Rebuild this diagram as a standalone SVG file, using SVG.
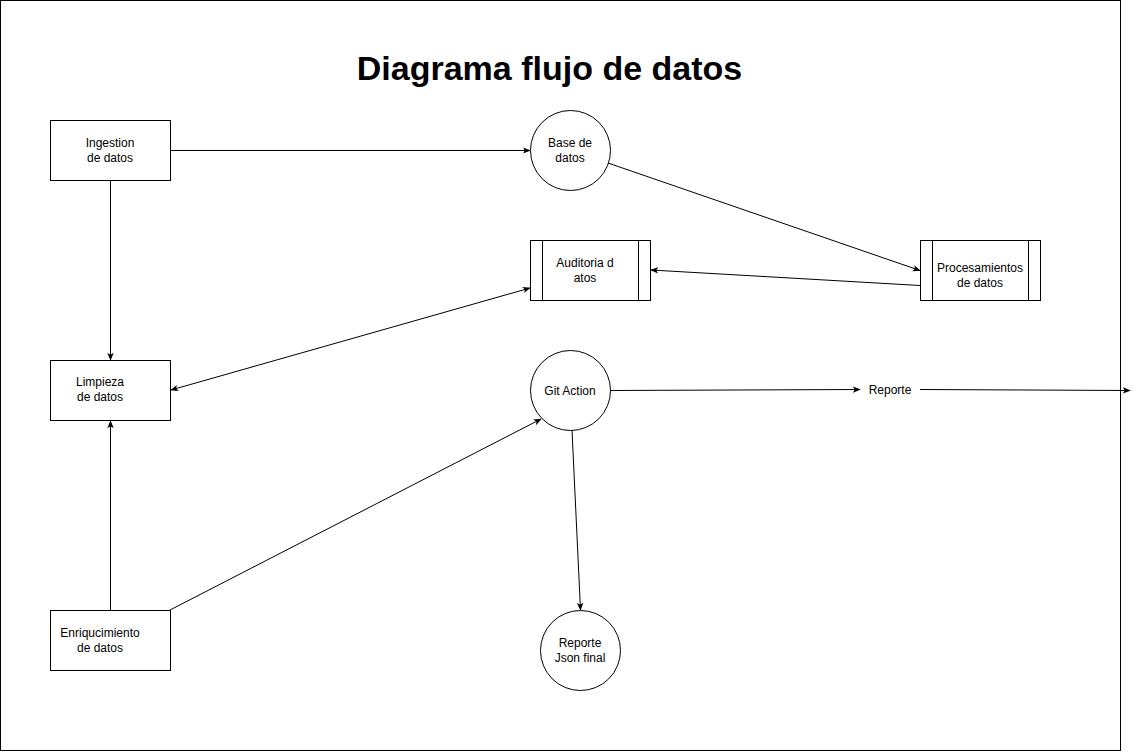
<svg xmlns="http://www.w3.org/2000/svg" width="1140" height="752" viewBox="0 0 1140 752">
<defs>
<marker id="arr" viewBox="0 0 10 10" refX="9" refY="5" markerWidth="8" markerHeight="8" markerUnits="userSpaceOnUse" orient="auto-start-reverse">
<path d="M0,1 L10,5 L0,9 L2.5,5 Z" fill="#000"/>
</marker>
<style>
.box{fill:#fff;stroke:#000;stroke-width:1}
.ln{fill:none;stroke:#000;stroke-width:1}
.t{font-family:"Liberation Sans",Arial,sans-serif;font-size:12px;fill:#000;text-anchor:middle}
.title{font-family:"Liberation Sans",Arial,sans-serif;font-size:34px;font-weight:bold;fill:#000;text-anchor:middle}
.e{fill:none;stroke:#000;stroke-width:1}
</style>
</defs>
<rect x="0" y="0" width="1140" height="752" fill="#fff"/>
<rect x="0.5" y="0.5" width="1120" height="750" class="ln"/>
<text class="title" x="549.5" y="80">Diagrama flujo de datos</text>

<g id="connectors">
<line class="e" x1="170" y1="150.5" x2="530" y2="150.5" marker-end="url(#arr)"/>
<line class="e" x1="608" y1="163" x2="920" y2="270.5" marker-end="url(#arr)"/>
<line class="e" x1="920" y1="285.5" x2="651" y2="270" marker-end="url(#arr)"/>
<line class="e" x1="530" y1="288" x2="171" y2="390" marker-start="url(#arr)" marker-end="url(#arr)"/>
<line class="e" x1="110.5" y1="180" x2="110.5" y2="360" marker-end="url(#arr)"/>
<line class="e" x1="110.5" y1="610" x2="110.5" y2="421" marker-end="url(#arr)"/>
<line class="e" x1="170" y1="610" x2="541" y2="419" marker-end="url(#arr)"/>
<line class="e" x1="610" y1="390.5" x2="860" y2="389.5" marker-end="url(#arr)"/>
<line class="e" x1="920" y1="389.5" x2="1130" y2="390.5" marker-end="url(#arr)"/>
<line class="e" x1="572" y1="430" x2="580.5" y2="610" marker-end="url(#arr)"/>
</g>

<g id="ingestion">
<rect class="box" x="50.5" y="120.5" width="120" height="60"/>
<text class="t" x="110" y="147">Ingestion</text>
<text class="t" x="110" y="162">de datos</text>
</g>
<g id="base-datos">
<circle class="box" cx="570.5" cy="150.5" r="40"/>
<text class="t" x="570" y="147">Base de</text>
<text class="t" x="570" y="162">datos</text>
</g>
<g id="auditoria">
<rect class="box" x="530.5" y="240.5" width="120" height="60"/>
<line class="ln" x1="542.5" y1="240.5" x2="542.5" y2="300.5"/>
<line class="ln" x1="638.5" y1="240.5" x2="638.5" y2="300.5"/>
<text class="t" x="585" y="267">Auditoria d</text>
<text class="t" x="585" y="282">atos</text>
</g>
<g id="procesamientos">
<rect class="box" x="920.5" y="240.5" width="120" height="60"/>
<line class="ln" x1="932.5" y1="240.5" x2="932.5" y2="300.5"/>
<line class="ln" x1="1028.5" y1="240.5" x2="1028.5" y2="300.5"/>
<text class="t" x="980" y="272">Procesamientos</text>
<text class="t" x="980" y="287">de datos</text>
</g>
<g id="limpieza">
<rect class="box" x="50.5" y="360.5" width="120" height="60"/>
<text class="t" x="100" y="386">Limpieza</text>
<text class="t" x="100" y="401">de datos</text>
</g>
<g id="git-action">
<circle class="box" cx="570.5" cy="390.5" r="40"/>
<text class="t" x="570" y="394.5">Git Action</text>
</g>
<g id="reporte">
<text class="t" x="890" y="393.5">Reporte</text>
</g>
<g id="enriquecimiento">
<rect class="box" x="50.5" y="610.5" width="120" height="60"/>
<text class="t" x="100" y="637">Enriqucimiento</text>
<text class="t" x="100" y="652">de datos</text>
</g>
<g id="reporte-json">
<circle class="box" cx="580.5" cy="650.5" r="40"/>
<text class="t" x="580" y="647">Reporte</text>
<text class="t" x="580" y="662">Json final</text>
</g>
</svg>
